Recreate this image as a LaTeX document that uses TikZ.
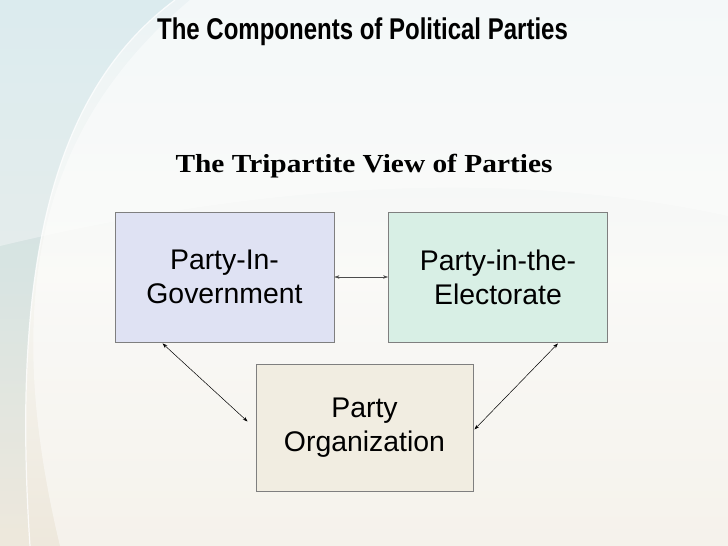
\documentclass[tikz,border=0pt]{standalone}
\usepackage{fontspec}
\setmainfont{Liberation Sans}
\newfontfamily\titlefont{Liberation Sans}
\newfontfamily\subfont{Liberation Serif}
\usetikzlibrary{arrows.meta,calc}
\definecolor{bgtop}{HTML}{E2EEF1}
\definecolor{bgmid}{HTML}{F6F6F2}
\definecolor{bgbot}{HTML}{EEE8DC}
\definecolor{bgteal}{HTML}{C9E1E6}
\definecolor{govfill}{HTML}{DFE2F3}
\definecolor{elefill}{HTML}{D8EFE5}
\definecolor{orgfill}{HTML}{F1EDE1}
\definecolor{boxline}{HTML}{7F7F7F}
\tikzset{
  compbox/.style={draw=boxline, line width=0.9pt, minimum width=219pt, minimum height=130pt,
    align=center, font=\fontsize{28.4}{34}\selectfont, text=black, inner sep=0pt},
  link/.style={line width=0.5pt, {Stealth[length=5pt,width=3.5pt]}-{Stealth[length=5pt,width=3.5pt]}}
}
\begin{document}
\begin{tikzpicture}[x=1pt,y=1pt]
\useasboundingbox (0,0) rectangle (728,546);
\shade[top color=bgtop, bottom color=bgbot, middle color=bgmid] (0,0) rectangle (728,546);
\shade[top color=bgteal, bottom color=bgbot, middle color=bgteal!60!bgbot] (0,546) -- (175,546) .. controls (60,460) and (10,300) .. (30,0) -- (0,0) -- cycle;
\fill[white, opacity=0.45] (190,546) .. controls (40,420) and (0,250) .. (60,0) -- (728,0) -- (728,546) -- cycle;
\fill[white, opacity=0.35] (0,300) .. controls (250,360) and (500,380) .. (728,330) -- (728,546) -- (0,546) -- cycle;
\draw[white, line width=1.2pt, opacity=0.8] (175,546) .. controls (60,460) and (10,300) .. (30,0);
\node (title) at (362.5,514) {\scalebox{0.8}[1]{\titlefont\bfseries\fontsize{30}{34}\selectfont The Components of Political Parties}};
\node (sub) at (364,380) {\scalebox{1.13}[1]{\subfont\bfseries\fontsize{26}{30}\selectfont The Tripartite View of Parties}};
\node[compbox, fill=govfill] (gov) at (224.5,269) {Party-In-\\Government};
\node[compbox, fill=elefill] (ele) at (498,269) {Party-in-the-\\Electorate};
\node[compbox, fill=orgfill, minimum width=217pt, minimum height=127pt] (org) at (364.5,118.5) {Party\\Organization};
\coordinate (g1) at ($(gov.south west)+(48,-1)$);
\coordinate (e1) at ($(ele.south east)+(-50,-1)$);
\coordinate (o1) at ($(org.west)+(-8,6)$);
\coordinate (o2) at ($(org.east)+(1,-2)$);
\draw[link, draw=black!70] (gov.east) -- (ele.west);
\draw[link] (g1) -- (o1);
\draw[link] (e1) -- (o2);
\end{tikzpicture}
\end{document}
